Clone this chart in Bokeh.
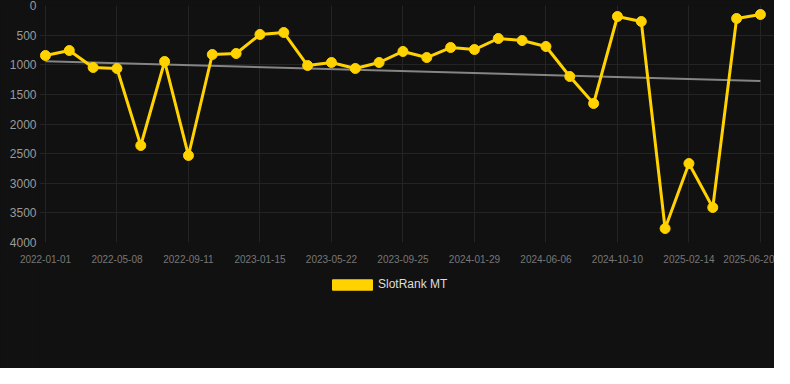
from bokeh.plotting import figure
from bokeh.models import (Range1d, FixedTicker, Legend, LegendItem, ColumnDataSource,
                          Column)
from bokeh.embed import file_html
from bokeh.resources import INLINE

# ---- data ----
tick_labels = ["2022-01-01", "2022-05-08", "2022-09-11", "2023-01-15", "2023-05-22",
               "2023-09-25", "2024-01-29", "2024-06-06", "2024-10-10", "2025-02-14",
               "2025-06-20"]
rank_values = [844, 760, 1046, 1063, 2363, 945, 2532, 827, 810, 489,
               456, 1013, 962, 1063, 962, 776, 878, 709, 743, 557,
               591, 692, 1198, 1654, 186, 270, 3764, 2667, 3409, 219, 152]
trend_values = [940, 1275]
y_ticks = [0, 500, 1000, 1500, 2000, 2500, 3000, 3500, 4000]
series_name = "SlotRank MT"

idx = list(range(len(rank_values)))
tick_idx = idx[::3]
trend_x = [idx[0], idx[-1]]

GOLD = "#FFD200"
BG = "#111111"
FONT = "Liberation Sans"

p = figure(width=774, height=267, output_backend="svg", toolbar_location=None,
           x_range=Range1d(-0.25, 30.59), y_range=Range1d(4000, 0),
           min_border_left=39, min_border_right=0, min_border_top=5,
           min_border_bottom=25)
p.background_fill_color = BG
p.border_fill_color = BG
p.outline_line_color = None

src = ColumnDataSource(dict(x=idx, y=rank_values))
p.line(x=trend_x, y=trend_values, line_color="#858585", line_width=2)
p.line("x", "y", source=src, line_color=GOLD, line_width=3)
p.scatter("x", "y", source=src, size=10, fill_color=GOLD, line_color=GOLD)

p.xaxis.ticker = FixedTicker(ticks=tick_idx)
p.xaxis.major_label_overrides = {i: lab for i, lab in zip(tick_idx, tick_labels)}
p.yaxis.ticker = FixedTicker(ticks=y_ticks)

for ax in (p.xaxis, p.yaxis):
    ax.axis_line_color = None
    ax.major_tick_line_color = None
    ax.minor_tick_line_color = None
    ax.major_tick_in = 0
    ax.major_tick_out = 0
    ax.major_label_text_font = FONT
p.xaxis.major_label_text_font_size = "10px"
p.xaxis.major_label_text_color = "#777777"
p.xaxis.major_label_standoff = 12
p.yaxis.major_label_text_font_size = "12px"
p.yaxis.major_label_text_color = "#9a9a9a"
p.yaxis.major_label_standoff = 3

p.xgrid.ticker = FixedTicker(ticks=tick_idx)
p.ygrid.ticker = FixedTicker(ticks=y_ticks)
p.grid.grid_line_color = "#242424"
p.grid.grid_line_width = 1

# legend strip below the chart
lg = figure(width=774, height=101, output_backend="svg", toolbar_location=None,
            x_range=Range1d(0, 1), y_range=Range1d(0, 1),
            x_axis_type=None, y_axis_type=None,
            min_border_left=0, min_border_right=0, min_border_top=0,
            min_border_bottom=0)
lg.background_fill_color = BG
lg.border_fill_color = BG
lg.outline_line_color = None
lg.grid.visible = False

key_src = ColumnDataSource(dict(x=[float("nan")], y=[float("nan")]))
dummy = lg.rect("x", "y", width=1, height=1, source=key_src,
                fill_color=GOLD, line_color=GOLD)

legend = Legend(items=[LegendItem(label=series_name, renderers=[dummy])],
                location=(288, 77), orientation="horizontal",
                background_fill_color=BG, background_fill_alpha=0,
                border_line_color=None,
                label_text_color="#dddddd", label_text_font=FONT,
                label_text_font_size="12px", glyph_width=50, glyph_height=13,
                label_standoff=1, padding=5, margin=0)
lg.add_layout(legend, "center")

page = Column(children=[p, lg], spacing=0, styles={"background-color": BG})

open("out.html", "w").write(file_html(page, INLINE))
